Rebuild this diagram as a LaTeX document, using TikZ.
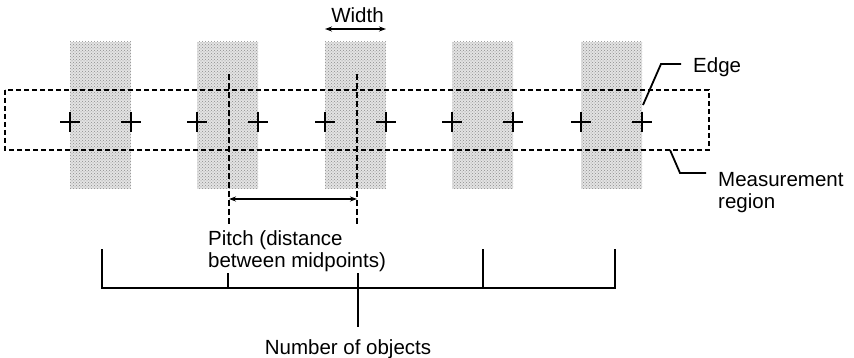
\documentclass[tikz,border=0pt]{standalone}
\usepackage{fontspec}
\setmainfont{Liberation Sans}
\usetikzlibrary{arrows.meta,patterns}
\begin{document}
\begin{tikzpicture}[x=1pt,y=-1pt,
  stripe/.style={draw=none,fill=gray!22,postaction={pattern=crosshatch dots,pattern color=gray!90}},
  region/.style={line width=2.1pt,dash pattern=on 5pt off 3pt},
  guide/.style={line width=1.1pt,dash pattern=on 6pt off 3pt},
  crossmark/.style={line width=1.7pt},
  leader/.style={line width=1.8pt},
  dim/.style={line width=1.3pt,{Stealth[length=7pt,width=5pt]}-{Stealth[length=7pt,width=5pt]}},
  lbl/.style={inner sep=0pt,font=\fontsize{20.5}{22}\selectfont}]
\useasboundingbox (0,0) rectangle (854,358);
% stripes
\foreach \x [count=\i] in {70,197,325,452,581}{
  \fill[stripe] (\x,42) rectangle (\x+61,189);
}
% measurement region
\draw[region] (5,90) rectangle (709,150);
% crosses
\foreach \x in {70,131,197,258,325,386,452,513,581,642}{
  \draw[crossmark] (\x-10,122) -- (\x+10,122) (\x,112) -- (\x,132);
}
% guides
\coordinate (g1t) at (229,74); \coordinate (g1b) at (229,225);
\coordinate (g2t) at (357,74); \coordinate (g2b) at (357,225);
\draw[guide] (g1t) -- (g1b);
\draw[guide] (g2t) -- (g2b);
\coordinate (p1) at (229,199); \coordinate (p2) at (357,199);
\draw[dim] (p1) -- (p2);
% width
\coordinate (w1) at (325,29); \coordinate (w2) at (386,29);
\draw[dim] (w1) -- (w2);
\node[lbl,anchor=base] (width) at (357.5,23) {Width};
% edge
\node[lbl,anchor=base west] (edge) at (693,73) {Edge};
\coordinate (edgept) at (643,105);
\coordinate (edgek) at (661,64);
\coordinate (edgee) at (681,64);
\draw[leader] (edgept) -- (edgek) -- (edgee);
% measurement region label
\node[lbl,anchor=north west,align=left] (meas) at (718,172.5) {Measurement\\region};
\coordinate (mpt) at (670,150);
\coordinate (mk) at (680,173);
\coordinate (me) at (706,173);
\draw[leader] (mpt) -- (mk) -- (me);
% pitch label
\node[lbl,anchor=north west,align=left] (pitch) at (208,230) {Pitch (distance\\between midpoints)};
% bracket
\coordinate (bl) at (102,288); \coordinate (br) at (615,288);
\coordinate (blt) at (102,249); \coordinate (brt) at (615,249);
\coordinate (b2) at (228,288); \coordinate (b2t) at (228,273);
\coordinate (b4) at (483,288); \coordinate (b4t) at (483,249);
\coordinate (bct) at (358,273); \coordinate (bcb) at (358,327);
\draw[leader] (blt) -- (bl) -- (br) -- (brt);
\draw[leader] (b2t) -- (b2);
\draw[leader] (b4t) -- (b4);
\draw[leader] (bct) -- (bcb);
\node[lbl,anchor=base] (num) at (348,354) {Number of objects};
\end{tikzpicture}
\end{document}
